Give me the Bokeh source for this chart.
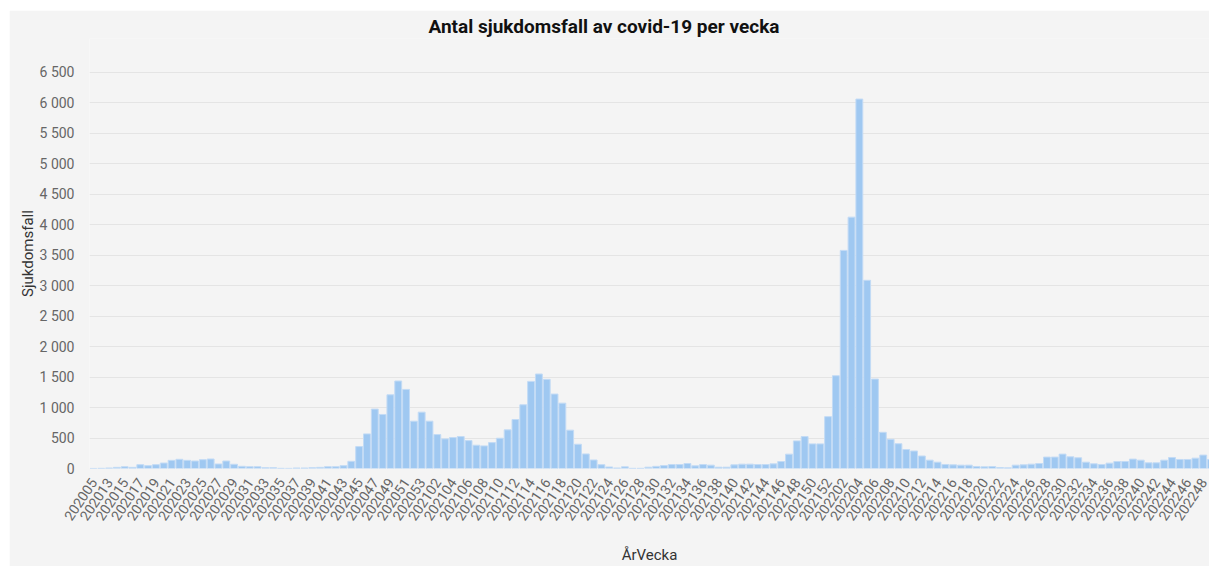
import math
from bokeh.plotting import figure
from bokeh.models import Range1d, FixedTicker, ColumnDataSource
from bokeh.embed import file_html
from bokeh.resources import INLINE

# Week categories (ÅrVecka)
weeks = (["202005", "202011"]
         + [f"2020{w:02d}" for w in range(13, 54)]
         + [f"2021{w:02d}" for w in range(1, 53)]
         + [f"2022{w:02d}" for w in range(1, 50)])

# Number of cases per week
cases_2020 = [1, 3, 8, 19, 30, 19, 63, 47, 63, 90, 134, 151, 134, 123, 145, 156,
              74, 123, 69, 36, 30, 30, 14, 14, 3, 2, 8, 8, 14, 19, 30, 30, 47, 118,
              360, 568, 975, 887, 1210, 1436, 1298, 777, 925]
cases_2021 = [777, 557, 486, 508, 524, 458, 382, 371, 425, 497, 634, 804, 1046,
              1430, 1551, 1463, 1222, 1073, 629, 398, 239, 140, 63, 25, 8, 28, 3,
              3, 22, 35, 49, 65, 65, 82, 44, 65, 55, 22, 22, 60, 71, 71, 65, 65,
              76, 115, 235, 453, 524, 404, 404, 851]
cases_2022 = [1523, 3580, 4126, 6064, 3089, 1468, 594, 479, 407, 312, 287, 205,
              137, 104, 66, 60, 55, 55, 33, 27, 33, 16, 11, 55, 60, 71, 82, 187,
              187, 236, 192, 176, 104, 77, 66, 88, 115, 115, 154, 137, 93, 93, 137,
              181, 148, 148, 170, 220, 148]
cases = cases_2020 + cases_2021 + cases_2022

y_ticks = list(range(0, 7000, 500))

title_text = "Antal sjukdomsfall av covid-19 per vecka"
x_title = "ÅrVecka"
y_title = "Sjukdomsfall"

idx = list(range(len(weeks)))
src = ColumnDataSource(dict(x=idx, week=weeks, cases=cases))

BG = "#f4f4f4"
FONT = "Roboto"

p = figure(width=1200, height=556, output_backend="svg", toolbar_location=None,
           x_range=Range1d(-0.5, 142.8), y_range=Range1d(0, 7058),
           min_border_left=80, min_border_right=0, min_border_top=28,
           min_border_bottom=98)
p.styles = {"margin-left": "9px", "margin-top": "10px"}

p.background_fill_color = BG
p.border_fill_color = BG
p.outline_line_color = None

p.title.text = title_text
p.title.align = "left"
p.title.offset = 339
p.title.standoff = 2
p.title.text_font = FONT
p.title.text_font_style = "bold"
p.title.text_font_size = "19px"
p.title.text_color = "#111111"

p.vbar(x="x", top="cases", width=0.88, source=src,
       fill_color="#9fc8f1", line_color="#c3dbf5", line_width=1)

p.xgrid.grid_line_color = None
p.ygrid.grid_line_color = "#e4e4e4"
p.ygrid.grid_line_width = 1

p.yaxis.ticker = FixedTicker(ticks=y_ticks)
p.yaxis.major_label_overrides = {t: f"{t:,}".replace(",", " ") for t in y_ticks}
p.yaxis.axis_label = y_title
p.yaxis.axis_label_standoff = 0
p.yaxis.major_label_standoff = 15

p.xaxis.ticker = FixedTicker(ticks=idx[::2])
p.xaxis.major_label_overrides = {i: weeks[i] for i in idx[::2]}
p.xaxis.major_label_orientation = 0.98
p.xaxis.axis_label = x_title
p.xaxis.major_label_standoff = 11
p.xaxis.axis_label_standoff = 18

for ax in (p.xaxis[0], p.yaxis[0]):
    ax.axis_line_color = None
    ax.major_tick_line_color = None
    ax.minor_tick_line_color = None
    ax.major_tick_out = 0
    ax.major_tick_in = 0
    ax.major_label_text_font = FONT
    ax.major_label_text_font_size = "14px"
    ax.major_label_text_color = "#666666"
    ax.axis_label_text_font = FONT
    ax.axis_label_text_font_size = "15px"
    ax.axis_label_text_font_style = "normal"
    ax.axis_label_text_color = "#333333"

open("out.html", "w").write(file_html(p, INLINE))
